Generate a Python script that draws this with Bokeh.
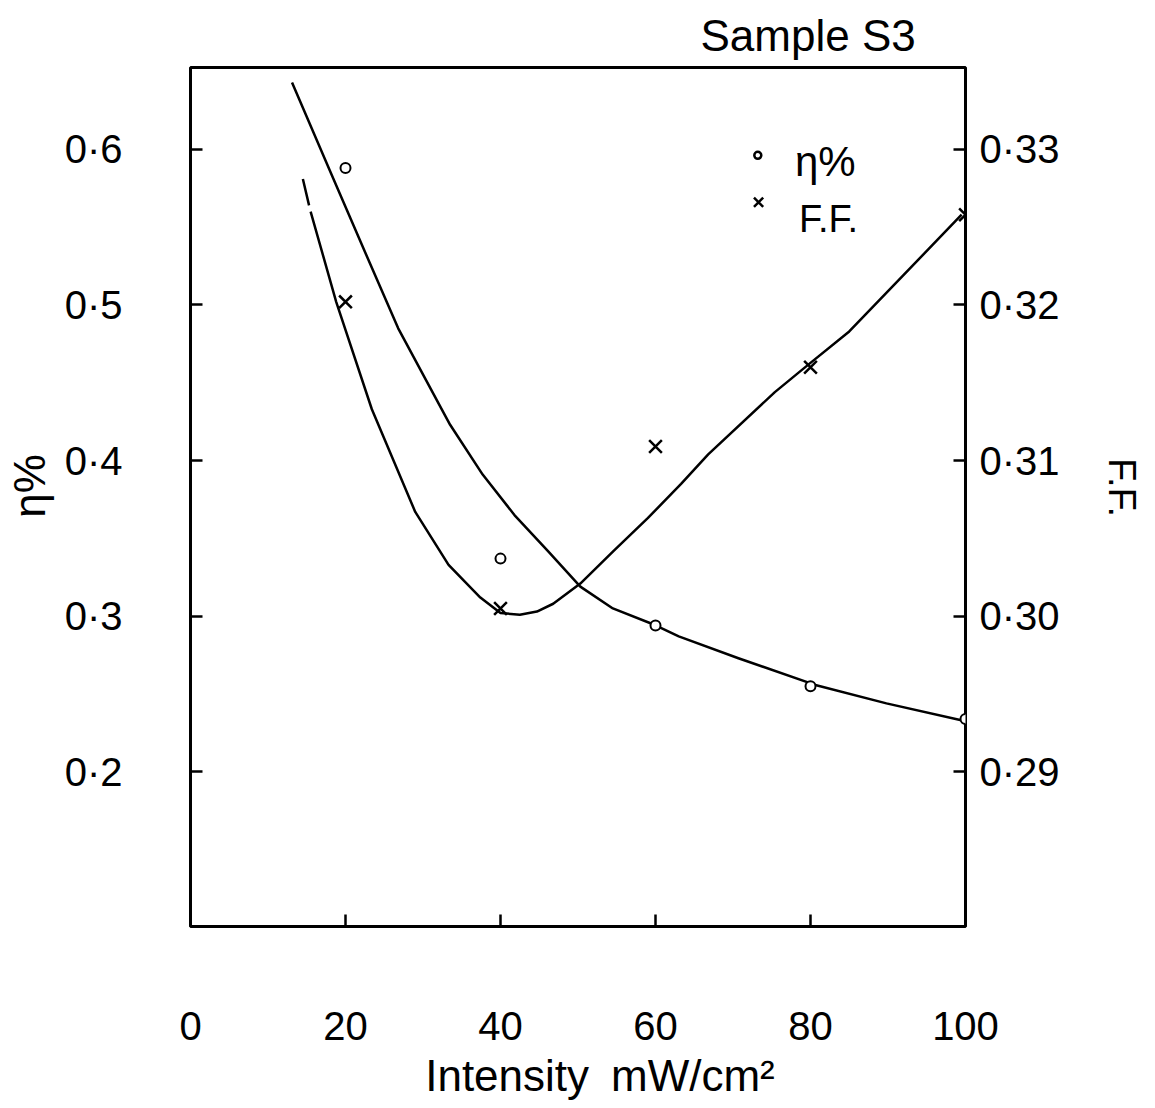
from bokeh.plotting import figure
from bokeh.models import Range1d, LinearAxis, FixedTicker, Label
from bokeh.embed import file_html
from bokeh.resources import INLINE

# ---- data ----
intensity = [20, 40, 60, 80, 100]
eta = [0.588, 0.337, 0.294, 0.255, 0.234]
ff = [0.3202, 0.3005, 0.3109, 0.3160, 0.3258]

# hand-drawn smooth curves
eta_curve_x = [13.1, 18.1, 22.7, 26.8, 32.3, 33.5, 37.7, 41.8, 46.1, 50.3, 54.5, 59.6, 63.0, 70.7, 80.5, 89.8, 99.6]
eta_curve_y = [0.643, 0.585, 0.532, 0.485, 0.434, 0.423, 0.391, 0.365, 0.342, 0.319, 0.305, 0.295, 0.287, 0.273, 0.256, 0.244, 0.233]

ff_curve_x = [14.5, 15.3, float("nan"), 15.5, 18.8, 23.4, 29.0, 33.3, 37.4, 40.0, 42.5, 44.7, 46.8, 50.3, 54.6, 59.0, 63.3, 66.8, 75.4, 79.8, 85.0, 99.5]
ff_curve_y = [0.3281, 0.3264, float("nan"), 0.3260, 0.3202, 0.3133, 0.3067, 0.3033, 0.3012, 0.3002, 0.3001, 0.3003, 0.3008, 0.3021, 0.3042, 0.3063, 0.3085, 0.3104, 0.3144, 0.3162, 0.3183, 0.3258]

x_ticks = [0, 20, 40, 60, 80, 100]
eta_ticks = [0.2, 0.3, 0.4, 0.5, 0.6]
eta_tick_labels = ["0·2", "0·3", "0·4", "0·5", "0·6"]
ff_ticks = [0.29, 0.30, 0.31, 0.32, 0.33]
ff_tick_labels = ["0·29", "0·30", "0·31", "0·32", "0·33"]

FONT = "Liberation Sans"
ETA_LO, ETA_HI = 0.1006, 0.6526
FF_LO, FF_HI = 0.27 + ETA_LO / 10, 0.27 + ETA_HI / 10

p = figure(width=1145, height=1106, output_backend="svg", toolbar_location=None,
           x_range=Range1d(0, 100), y_range=Range1d(ETA_LO, ETA_HI),
           min_border_left=190, min_border_right=177, min_border_top=65, min_border_bottom=180)
p.extra_y_ranges = {"ff": Range1d(FF_LO, FF_HI)}
p.xgrid.visible = False
p.ygrid.visible = False
p.outline_line_color = "black"
p.outline_line_width = 3
p.outline_line_alpha = 1.0
p.background_fill_color = "white"
p.border_fill_color = "white"

# title
p.title.text = "Sample S3"
p.title.text_font = FONT
p.title.text_font_size = "44px"
p.title.text_font_style = "normal"
p.title.text_color = "black"
p.title.align = "left"
p.title.offset = 510
p.title.standoff = 16

def style_axis(ax, standoff):
    ax.axis_line_color = None
    ax.major_tick_in = 12
    ax.major_tick_out = 0
    ax.minor_tick_in = 0
    ax.minor_tick_out = 0
    ax.major_tick_line_width = 2.5
    ax.major_tick_line_color = "black"
    ax.major_label_text_font = FONT
    ax.major_label_text_font_size = "40px"
    ax.major_label_text_color = "black"
    ax.major_label_standoff = standoff
    ax.axis_label_text_font = FONT
    ax.axis_label_text_font_style = "normal"
    ax.axis_label_text_color = "black"

p.xaxis.ticker = FixedTicker(ticks=x_ticks)
style_axis(p.xaxis[0], 85)
p.xaxis.axis_label = "\u2003Intensity\u2002mW/cm²"
p.xaxis.axis_label_text_font_size = "44px"
p.xaxis.axis_label_standoff = 8

p.yaxis.ticker = FixedTicker(ticks=eta_ticks)
p.yaxis.major_label_overrides = {t: l for t, l in zip(eta_ticks, eta_tick_labels)}
style_axis(p.yaxis[0], 68)
p.yaxis.axis_label = "\u2002η%"
p.yaxis.axis_label_text_font_size = "44px"
p.yaxis.axis_label_standoff = 8

rax = LinearAxis(y_range_name="ff", ticker=FixedTicker(ticks=ff_ticks),
                 major_label_overrides={t: l for t, l in zip(ff_ticks, ff_tick_labels)})
style_axis(rax, 14)
rax.axis_label = "F.F.\u2002"
rax.axis_label_text_font_size = "38px"
rax.axis_label_standoff = 38
p.add_layout(rax, "right")

# curves
p.line(eta_curve_x, eta_curve_y, line_color="black", line_width=2.5, line_join="round")
p.line(ff_curve_x, ff_curve_y, line_color="black", line_width=2.5, line_join="round", y_range_name="ff")

# points
p.scatter(intensity, eta, marker="circle", size=10, line_color="black", line_width=2, fill_color="white")
p.scatter(intensity, ff, marker="x", size=18, line_color="black", line_width=2.5, y_range_name="ff")

# legend (drawn by hand in the original)
p.scatter([73.2], [0.5962], marker="circle", size=7, line_color="black", line_width=2.5, fill_color="white")
p.scatter([73.3], [0.566], marker="x", size=13, line_color="black", line_width=2.5)
p.add_layout(Label(x=78.0, y=0.5923, text="η%", text_font=FONT, text_font_size="42px",
                   text_color="black", text_baseline="alphabetic", text_align="left"))
p.add_layout(Label(x=78.5, y=0.5551, text="F.F.", text_font=FONT, text_font_size="38px",
                   text_color="black", text_baseline="alphabetic", text_align="left"))

open("out.html", "w").write(file_html(p, INLINE))
